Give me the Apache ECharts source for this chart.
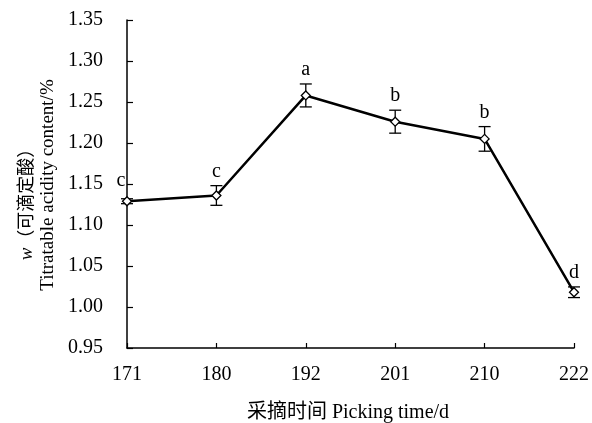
<!DOCTYPE html>
<html><head><meta charset="utf-8">
<script src="https://cdn.jsdelivr.net/npm/echarts@6/dist/echarts.min.js"></script>
<style>html,body{margin:0;padding:0;background:#fff}#c{width:592px;height:423px}</style>
</head><body><div id="c"></div>
<script>
var categories = ['171','180','192','201','210','222'];
var values = [1.129, 1.136, 1.258, 1.226, 1.205, 1.018];
var errors = [0.003, 0.012, 0.014, 0.014, 0.015, 0.0065];
var letters = ['c','c','a','b','b','d'];
var yMin = 0.95, yMax = 1.35, yStep = 0.05;

var FONT = '"Liberation Serif", "Noto Sans CJK SC", serif';
var chart = echarts.init(document.getElementById('c'));
var errData = values.map(function(v,i){return [i, v, errors[i]];});
chart.setOption({
  animation:false,
  grid:{left:127,right:18,top:20,bottom:75},
  xAxis:{type:'category',data:categories,boundaryGap:false,
    axisLine:{lineStyle:{color:'#000',width:1.5}},
    axisTick:{inside:true,length:5,lineStyle:{color:'#000',width:1.2}},
    axisLabel:{color:'#000',fontFamily:FONT,fontSize:20,margin:17},
    splitLine:{show:false}},
  yAxis:{type:'value',min:yMin,max:yMax,interval:yStep,
    axisLine:{show:true,lineStyle:{color:'#000',width:1.5}},
    axisTick:{show:true,inside:true,length:6,lineStyle:{color:'#000',width:1.2}},
    axisLabel:{color:'#000',fontFamily:FONT,fontSize:20,margin:24,formatter:function(v){return v.toFixed(2);}},
    splitLine:{show:false}},
  graphic:[
    {type:'text',x:27,y:200,rotation:Math.PI/2,
      style:{rich:{i:{fontStyle:'italic',fontFamily:FONT,fontSize:19,fill:'#000'},n:{fontFamily:FONT,fontSize:18,fill:'#000'}},
        text:'{i|w}{n|（可滴定酸）}',align:'center',verticalAlign:'middle',fill:'#000'}},
    {type:'text',x:48,y:185,rotation:Math.PI/2,
      style:{text:'Titratable acidity content/%',font:'19px '+FONT,fill:'#000',align:'center',verticalAlign:'middle'}},
    {type:'text',x:348,y:413,
      style:{text:'采摘时间 Picking time/d',font:'20px '+FONT,fill:'#000',align:'center',verticalAlign:'middle'}}
  ],
  series:[
    {type:'line',data:values,symbol:'diamond',symbolSize:9,z:3,
      lineStyle:{color:'#000',width:2.5},
      itemStyle:{color:'#fff',borderColor:'#000',borderWidth:1.3}},
    {type:'custom',data:errData,z:2,
      renderItem:function(params,api){
        var i=api.value(0),v=api.value(1),e=api.value(2);
        var lt=letters[params.dataIndex];
        var top=api.coord([i,v+e]),bot=api.coord([i,v-e]),pt=api.coord([i,v]);
        var w=6;
        var st={stroke:'#000',lineWidth:1.3};
        var children=[
          {type:'line',shape:{x1:top[0],y1:top[1],x2:bot[0],y2:bot[1]},style:st},
          {type:'line',shape:{x1:top[0]-w,y1:top[1],x2:top[0]+w,y2:top[1]},style:st},
          {type:'line',shape:{x1:bot[0]-w,y1:bot[1],x2:bot[0]+w,y2:bot[1]},style:st}
        ];
        var tx=top[0],ty=top[1]-4;
        if(params.dataIndex===0){tx=pt[0]-6;ty=pt[1]-10;}
        children.push({type:'text',x:tx,y:ty,style:{text:lt,font:'20px '+FONT,fill:'#000',align:'center',verticalAlign:'bottom'}});
        return {type:'group',children:children};
      }}
  ]
});
</script></body></html>
